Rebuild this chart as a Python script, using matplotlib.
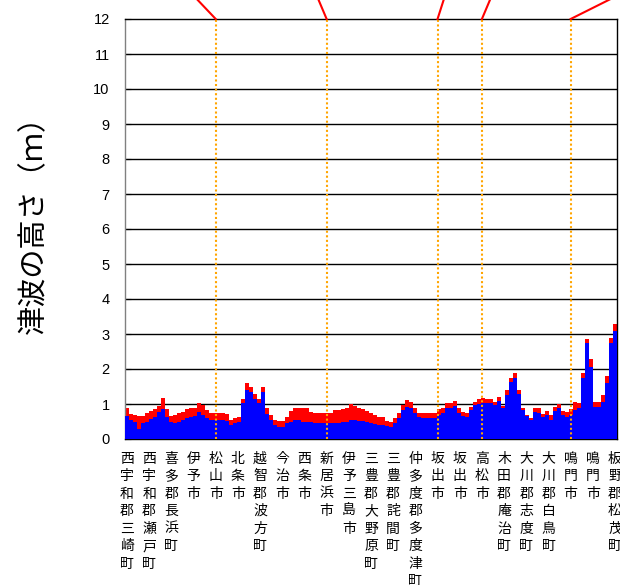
import numpy as np
import matplotlib
matplotlib.use('Agg')
import matplotlib.pyplot as plt

plt.rcParams['font.family'] = ['Liberation Sans', 'Noto Sans CJK JP', 'DejaVu Sans']

# 地点名（等間隔ラベル）
places = ['西宇和郡三崎町', '西宇和郡瀬戸町', '喜多郡長浜町', '伊予市', '松山市', '北条市',
          '越智郡波方町', '今治市', '西条市', '新居浜市', '伊予三島市', '三豊郡大野原町',
          '三豊郡詫間町', '仲多度郡多度津町', '坂出市', '坂出市', '高松市', '木田郡庵治町',
          '大川郡志度町', '大川郡白鳥町', '鳴門市', '鳴門市', '板野郡松茂町']
# 点線を引く地点（placesの番号）
marked = [4, 9, 14, 16, 20]
# 引出線の向き（上端での横ずれ）
leader_dx = [-8.3, -3.7, 2.8, 3.7, 17.5]

# 津波高さ 最大（赤）と平均（青）
h_max = [0.88, 0.71, 0.69, 0.66, 0.66, 0.73, 0.80, 0.86, 0.95, 1.16,
         0.85, 0.66, 0.68, 0.73, 0.78, 0.85, 0.88, 0.90, 1.02, 0.97,
         0.83, 0.73, 0.73, 0.73, 0.73, 0.72, 0.54, 0.59, 0.64, 1.13,
         1.60, 1.50, 1.30, 1.14, 1.50, 0.90, 0.70, 0.55, 0.52, 0.52,
         0.64, 0.80, 0.88, 0.90, 0.88, 0.88, 0.78, 0.75, 0.75, 0.75,
         0.73, 0.73, 0.83, 0.83, 0.85, 0.88, 1.00, 0.95, 0.90, 0.87,
         0.80, 0.75, 0.70, 0.64, 0.64, 0.52, 0.50, 0.60, 0.75, 0.97,
         1.11, 1.07, 0.90, 0.75, 0.75, 0.75, 0.75, 0.75, 0.85, 0.88,
         1.02, 1.02, 1.08, 0.90, 0.78, 0.73, 0.92, 1.07, 1.14, 1.16,
         1.15, 1.13, 1.05, 1.20, 0.95, 1.40, 1.75, 1.88, 1.40, 0.88,
         0.70, 0.59, 0.90, 0.90, 0.72, 0.80, 0.68, 0.92, 1.00, 0.80,
         0.78, 0.86, 1.07, 1.02, 1.90, 2.86, 2.30, 1.07, 1.07, 1.25,
         1.80, 2.90, 3.30]
h_mean = [0.66, 0.54, 0.50, 0.30, 0.47, 0.50, 0.57, 0.62, 0.78, 0.86,
          0.64, 0.48, 0.47, 0.50, 0.54, 0.60, 0.64, 0.66, 0.78, 0.69,
          0.59, 0.54, 0.54, 0.54, 0.54, 0.52, 0.40, 0.45, 0.50, 1.02,
          1.40, 1.35, 1.15, 1.02, 1.35, 0.72, 0.55, 0.40, 0.35, 0.35,
          0.45, 0.50, 0.54, 0.54, 0.50, 0.50, 0.48, 0.47, 0.47, 0.47,
          0.45, 0.45, 0.47, 0.47, 0.48, 0.50, 0.54, 0.53, 0.52, 0.51,
          0.48, 0.47, 0.44, 0.40, 0.40, 0.36, 0.35, 0.45, 0.60, 0.83,
          0.92, 0.88, 0.75, 0.62, 0.59, 0.59, 0.59, 0.59, 0.70, 0.73,
          0.88, 0.88, 0.94, 0.75, 0.66, 0.64, 0.82, 0.97, 1.00, 1.02,
          1.02, 1.02, 0.98, 1.10, 0.90, 1.25, 1.62, 1.73, 1.28, 0.83,
          0.66, 0.54, 0.76, 0.75, 0.62, 0.70, 0.55, 0.80, 0.88, 0.70,
          0.64, 0.70, 0.83, 0.88, 1.75, 2.73, 2.07, 0.92, 0.92, 1.05,
          1.60, 2.75, 3.10]

n = len(h_max)
x = np.arange(n)
tick_pos = np.linspace(0.5, n - 0.5, len(places))

fig = plt.figure(figsize=(6.2, 5.85), dpi=100)
ax = fig.add_axes([125/620, 1 - 439/585, 492/620, 420/585])

ax.bar(x, h_max, width=1.0, align='edge', color='#ff0000', linewidth=0, zorder=2)
ax.bar(x, h_mean, width=1.0, align='edge', color='#0000ff', linewidth=0, zorder=3)

for k in range(1, 12):
    ax.axhline(k, color='black', lw=1, zorder=1)

for m, dx in zip(marked, leader_dx):
    xp = tick_pos[m]
    ax.plot([xp, xp], [0, 12], color='#ffa500', lw=1.5, ls=(0, (1, 1.2)), zorder=4)
    ax.plot([xp, xp + dx], [12, 13], color='#ff0000', lw=1.5, clip_on=False, zorder=5)

ax.set_xlim(0, n)
ax.set_ylim(0, 12)
ax.set_yticks(range(0, 13))
ax.tick_params(axis='y', direction='in', length=4, pad=11, labelsize=10.5)
ax.set_xticks(tick_pos)
ax.set_xticklabels(['\n'.join(p) for p in places], fontsize=10, linespacing=1.32,
                   family=['Noto Sans CJK JP'], va='top')
ax.tick_params(axis='x', length=0, pad=9)
for s in ax.spines.values():
    s.set_color('black')
    s.set_linewidth(1)
ax.spines['left'].set_color('#808080')

fig.text(34/620, 1 - 218/585, '津波の高さ（ｍ）', rotation=90, fontsize=21,
         family=['Noto Sans CJK JP'], ha='center', va='center')

fig.savefig('out.png', dpi=100)
